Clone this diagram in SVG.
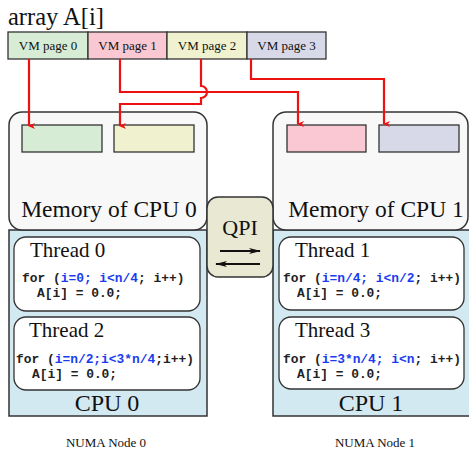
<svg xmlns="http://www.w3.org/2000/svg" width="469" height="450" viewBox="0 0 469 450">
<defs>
<marker id="ra" markerWidth="8" markerHeight="8" refX="4" refY="6" orient="auto" markerUnits="userSpaceOnUse" viewBox="0 0 8 8">
<path d="M1,0 L4,7 L7,0 L4,2 Z" fill="#ee1111"/>
</marker>
<marker id="ba" markerWidth="12" markerHeight="8" refX="11" refY="4" orient="auto" markerUnits="userSpaceOnUse">
<path d="M0,1 L12,4 L0,7 L3,4 Z" fill="#111"/>
</marker>
<style>
.serif{font-family:"Liberation Serif","Times New Roman",serif;fill:#111}
.big{font-size:22px}
.mtxt{font-size:23.5px;text-anchor:middle}
.thd{font-size:21px}
.page{font-size:13px;text-anchor:middle}
.code{font-family:"Liberation Mono","Courier New",monospace;font-size:12.9px;font-weight:bold;fill:#222}
.blue{fill:#1a3cf0}
.box{stroke:#333;stroke-width:1.3}
.mem{fill:#f8f8f8;stroke:#333;stroke-width:1.5}
.cpu{fill:#d3e9f2;stroke:#333;stroke-width:1.5}
.thr{fill:#fff;stroke:#333;stroke-width:1.3}
.wire{fill:none;stroke:#ee1111;stroke-width:2.2}
.small{font-size:13px;text-anchor:middle}
</style>
</defs>
<rect width="469" height="450" fill="#fff"/>

<text class="serif" x="8" y="25" font-size="24.5">array A[i]</text>

<g id="array">
<rect class="box" x="8" y="32" width="80" height="27" fill="#d6ecd5"/>
<rect class="box" x="88" y="32" width="79" height="27" fill="#f9c8d2"/>
<rect class="box" x="167" y="32" width="80" height="27" fill="#f0f2cf"/>
<rect class="box" x="247" y="32" width="79" height="27" fill="#d8d9e8"/>
<text class="serif page" x="48" y="50">VM page 0</text>
<text class="serif page" x="127.5" y="50">VM page 1</text>
<text class="serif page" x="207" y="50">VM page 2</text>
<text class="serif page" x="286.5" y="50">VM page 3</text>
</g>

<g id="node0">
<rect class="cpu" x="9" y="230" width="198" height="186"/>
<rect class="mem" x="9" y="112" width="198" height="118" rx="13"/>
<rect class="box" x="22" y="125" width="80" height="27" fill="#d6ecd5"/>
<rect class="box" x="114" y="125" width="80" height="27" fill="#f0f2cf"/>
<text class="serif mtxt" x="109" y="217">Memory of CPU 0</text>
<g id="thread0">
<rect class="thr" x="14" y="237" width="186" height="74" rx="12"/>
<text class="serif thd" x="30" y="257">Thread 0</text>
<text class="code" x="22" y="282">for (<tspan class="blue">i=0; i&lt;n/4</tspan>; i++)</text>
<text class="code" x="37" y="297">A[i] = 0.0;</text>
</g>
<g id="thread2">
<rect class="thr" x="14" y="317" width="186" height="73" rx="12"/>
<text class="serif thd" x="29" y="337">Thread 2</text>
<text class="code" x="16" y="363">for (<tspan class="blue">i=n/2;i&lt;3*n/4</tspan>;i++)</text>
<text class="code" x="32" y="378">A[i] = 0.0;</text>
</g>
<text class="serif" x="107" y="411" font-size="24" text-anchor="middle">CPU 0</text>
</g>

<g id="node1">
<rect class="cpu" x="273" y="230" width="200" height="186"/>
<rect class="mem" x="273" y="112" width="195" height="118" rx="13"/>
<rect class="box" x="287" y="125" width="79" height="27" fill="#f9c8d2"/>
<rect class="box" x="379" y="125" width="80" height="27" fill="#d8d9e8"/>
<text class="serif mtxt" x="376" y="217">Memory of CPU 1</text>
<g id="thread1">
<rect class="thr" x="279" y="237" width="185" height="73" rx="12"/>
<text class="serif thd" x="295" y="257">Thread 1</text>
<text class="code" x="283" y="282">for (<tspan class="blue">i=n/4; i&lt;n/2</tspan>; i++)</text>
<text class="code" x="297" y="297">A[i] = 0.0;</text>
</g>
<g id="thread3">
<rect class="thr" x="279" y="317" width="185" height="72" rx="12"/>
<text class="serif thd" x="295" y="337">Thread 3</text>
<text class="code" x="283" y="363">for (<tspan class="blue">i=3*n/4; i&lt;n</tspan>; i++)</text>
<text class="code" x="297" y="378">A[i] = 0.0;</text>
</g>
<text class="serif" x="371" y="411" font-size="24" text-anchor="middle">CPU 1</text>
</g>

<g id="qpi">
<rect x="207" y="197" width="66" height="80" rx="11" fill="#e8e8d3" stroke="#333" stroke-width="1.5"/>
<text class="serif big" x="240" y="235" text-anchor="middle">QPI</text>
<line x1="220" y1="251" x2="260" y2="251" stroke="#111" stroke-width="2" marker-end="url(#ba)"/>
<line x1="260" y1="264" x2="216" y2="264" stroke="#111" stroke-width="2" marker-end="url(#ba)"/>
</g>

<g id="connectors">
<path class="wire" d="M29,59 V126" marker-end="url(#ra)"/>
<path class="wire" d="M120,59 V92 H298 V124" marker-end="url(#ra)"/>
<path class="wire" d="M201,59 V86 A6,6 0 0 1 201,98 V104 H120 V126" marker-end="url(#ra)"/>
<path class="wire" d="M251,59 V79 H384 V124" marker-end="url(#ra)"/>
</g>

<text class="serif small" x="106" y="447">NUMA Node 0</text>
<text class="serif small" x="375" y="447">NUMA Node 1</text>
</svg>
